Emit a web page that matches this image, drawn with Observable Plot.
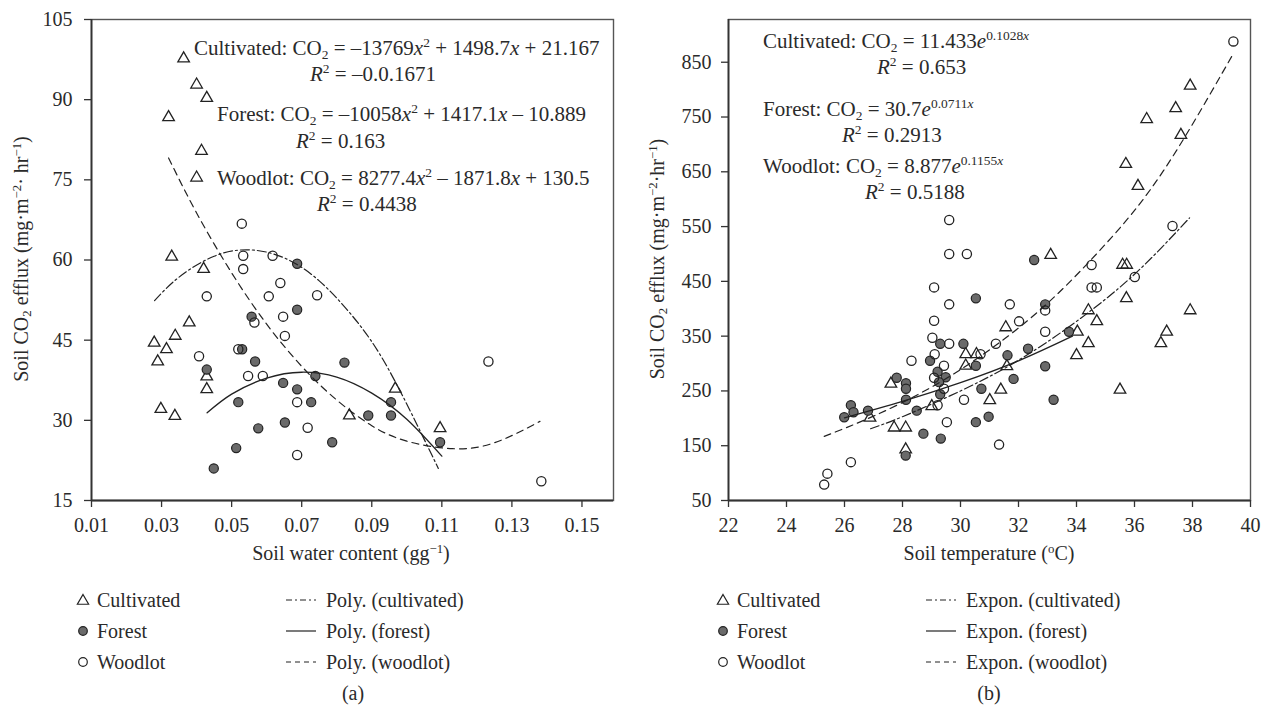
<!DOCTYPE html>
<html>
<head>
<meta charset="utf-8">
<script src="https://cdn.jsdelivr.net/npm/d3@7"></script>
<script src="https://cdn.jsdelivr.net/npm/@observablehq/plot@0.6"></script>
<style>
  html, body { margin: 0; padding: 0; background: #fff; }
  #wrap { position: relative; width: 1270px; height: 716px; background: #fff; overflow: hidden; font-family: "Liberation Serif", serif; }
  .panel { position: absolute; top: 0; }
  #overlay { position: absolute; left: 0; top: 0; pointer-events: none; }
</style>
</head>
<body>
<div id="wrap">
  <div class="panel" id="pa" style="left:0px"></div>
  <div class="panel" id="pb" style="left:635px"></div>
</div>
<script>
// ---------------- DATA ----------------
// Panel (a): soil water content (g/g) vs soil CO2 efflux
const waterCultivated = [
  [0.0363, 97.7], [0.040, 92.8], [0.0429, 90.3], [0.032, 86.7], [0.0414, 80.4], [0.040, 75.4],
  [0.0329, 60.6], [0.042, 58.3], [0.0379, 48.3], [0.0279, 44.5], [0.0339, 45.8], [0.0314, 43.3],
  [0.0289, 41.0], [0.0429, 38.2], [0.0429, 35.8], [0.0298, 32.1], [0.0338, 30.8], [0.0836, 30.9],
  [0.0967, 35.9], [0.1095, 28.5]
];
const waterForest = [
  [0.0687, 59.3], [0.0687, 50.7], [0.0557, 49.4], [0.053, 43.3], [0.0567, 41.0], [0.0429, 39.5],
  [0.0739, 38.3], [0.0647, 37.0], [0.0687, 35.8], [0.0519, 33.4], [0.0727, 33.4], [0.0652, 29.6],
  [0.0576, 28.5], [0.0513, 24.8], [0.0449, 21.0], [0.0822, 40.8], [0.0955, 33.4], [0.089, 30.9],
  [0.0955, 30.9], [0.0787, 25.9], [0.1095, 25.9]
];
const waterWoodlot = [
  [0.0529, 66.8], [0.0533, 60.8], [0.0533, 58.3], [0.0617, 60.8], [0.0429, 53.2], [0.0606, 53.2],
  [0.0639, 55.7], [0.0744, 53.4], [0.0647, 49.4], [0.0565, 48.3], [0.0652, 45.8], [0.0407, 42.0],
  [0.0519, 43.3], [0.0547, 38.3], [0.0589, 38.3], [0.0687, 33.4], [0.0717, 28.6], [0.0687, 23.5],
  [0.1233, 41.0], [0.1384, 18.6]
];
// trend lines of panel (a)
const waterTrendCultivated = [[0.028, 52.4], [0.035, 56.8], [0.045, 60.7], [0.055, 61.9], [0.065, 60.4], [0.075, 56.1], [0.085, 49.1], [0.095, 39.3], [0.109, 21.0]];
const waterTrendForest = [[0.043, 31.4], [0.05, 34.9], [0.06, 37.9], [0.07, 39.0], [0.08, 38.1], [0.09, 35.1], [0.10, 30.2], [0.11, 23.3]];
const waterTrendWoodlot = [[0.032, 79.1], [0.04, 68.8], [0.05, 57.6], [0.06, 48.0], [0.07, 40.1], [0.08, 33.8], [0.09, 29.0], [0.10, 26.1], [0.113, 24.7], [0.125, 25.8], [0.138, 29.8]];
const waterTicks = [0.01, 0.03, 0.05, 0.07, 0.09, 0.11, 0.13, 0.15];
const fluxTicksA = [15, 30, 45, 60, 75, 90, 105];

// Panel (b): soil temperature (°C) vs soil CO2 efflux
const tempCultivated = [
  [27.6, 263], [26.88, 201], [27.71, 183], [28.11, 183], [28.11, 143], [29.01, 222], [30.18, 317],
  [30.55, 317], [30.18, 296], [31.01, 233], [31.39, 252], [31.56, 366], [31.6, 295], [33.11, 498],
  [34.41, 397], [34.7, 377], [34.03, 358], [34.41, 337], [34.0, 315], [35.5, 252], [35.59, 480],
  [35.73, 480], [35.72, 419], [35.7, 664], [36.12, 624], [36.42, 746], [37.42, 766], [37.6, 717],
  [37.92, 807], [37.92, 397], [37.11, 358], [36.91, 337]
];
const tempForest = [
  [25.99, 202], [26.22, 224], [26.31, 211], [26.81, 214], [27.8, 274], [28.12, 264], [28.12, 254],
  [28.12, 234], [28.11, 132], [28.49, 214], [28.72, 172], [28.95, 305], [29.3, 336], [29.21, 285],
  [29.49, 275], [29.26, 266], [29.3, 244], [29.32, 163], [30.1, 336], [30.53, 296], [30.72, 254],
  [30.53, 193], [30.97, 203], [30.53, 419], [31.62, 315], [31.83, 272], [32.33, 327], [32.54, 489],
  [32.92, 408], [32.92, 295], [33.21, 234], [33.74, 358]
];
const tempWoodlot = [
  [25.3, 79], [25.41, 99], [26.22, 120], [28.31, 305], [29.03, 347], [29.09, 439], [29.09, 378],
  [29.11, 317], [29.09, 274], [29.21, 224], [29.43, 296], [29.43, 254], [29.53, 193], [29.61, 562],
  [29.61, 500], [29.61, 408], [29.61, 336], [30.22, 500], [30.69, 317], [30.12, 234], [31.22, 336],
  [31.33, 152], [31.7, 408], [32.02, 377], [32.92, 397], [32.92, 358], [34.52, 480], [34.52, 439],
  [34.7, 439], [36.01, 458], [37.31, 551], [39.41, 888]
];
const tempTrendCultivated = [[26.9, 181], [28, 203], [30, 250], [32, 306], [34, 377], [36, 463], [37.9, 566]];
const tempTrendForest = [[26, 201], [28, 231], [30, 265], [32, 305], [33.86, 350]];
const tempTrendWoodlot = [[25.3, 167], [27, 204], [29, 257], [31, 325], [33, 410], [35, 518], [37, 652], [39.4, 865]];
const tempTicks = [22, 24, 26, 28, 30, 32, 34, 36, 38, 40];
const fluxTicksB = [50, 150, 250, 350, 450, 550, 650, 750, 850];

// ---------------- STYLE ----------------
const INK = "#222";
const FOREST_FILL = "#6a6a6a";
const DASHDOT = "9,3,2,3";
const DASHED = "7,5";
const FONT = "Liberation Serif";

function panel(opts) {
  const {xDomain, yDomain, xTicks, yTicks, xFormat, cult, forest, wood, tCult, tForest, tWood, mLeft, mRight, yPad} = opts;
  return Plot.plot({
    width: 635, height: 545,
    marginLeft: mLeft, marginRight: mRight, marginTop: 19, marginBottom: 45,
    x: {domain: xDomain},
    y: {domain: yDomain},
    style: {fontFamily: FONT, fontSize: "20px", color: "#2a2a2a", background: "transparent"},
    marks: [
      Plot.frame({stroke: "#555", strokeWidth: 1.4}),
      Plot.axisX({ticks: xTicks, tickFormat: xFormat, tickSize: 7, tickPadding: 10, label: null, stroke: "#333", strokeWidth: 1.3}),
      Plot.axisY({ticks: yTicks, tickSize: 7, tickPadding: yPad, label: null, stroke: "#333", strokeWidth: 1.3}),
      Plot.ruleX([xDomain[0]], {stroke: "#333", strokeWidth: 1.8}),
      Plot.ruleY([yDomain[0]], {stroke: "#333", strokeWidth: 1.8}),
      Plot.dot(cult, {x: d => d[0], y: d => d[1], symbol: "triangle", r: 4.3, fill: "none", stroke: INK, strokeWidth: 1.3}),
      Plot.dot(forest, {x: d => d[0], y: d => d[1], r: 4.6, fill: FOREST_FILL, stroke: INK, strokeWidth: 1.2}),
      Plot.dot(wood, {x: d => d[0], y: d => d[1], r: 4.6, fill: "none", stroke: INK, strokeWidth: 1.3}),
      Plot.line(tCult, {x: d => d[0], y: d => d[1], curve: "natural", stroke: INK, strokeWidth: 1.2, strokeDasharray: DASHDOT}),
      Plot.line(tForest, {x: d => d[0], y: d => d[1], curve: "natural", stroke: INK, strokeWidth: 1.3}),
      Plot.line(tWood, {x: d => d[0], y: d => d[1], curve: "natural", stroke: INK, strokeWidth: 1.2, strokeDasharray: DASHED})
    ]
  });
}

document.getElementById("pa").append(panel({
  xDomain: [0.01, 0.159], yDomain: [15, 105], xTicks: waterTicks, yTicks: fluxTicksA,
  xFormat: d3.format(".2f"), cult: waterCultivated, forest: waterForest, wood: waterWoodlot,
  tCult: waterTrendCultivated, tForest: waterTrendForest, tWood: waterTrendWoodlot,
  mLeft: 91, mRight: 22, yPad: 12
}));
document.getElementById("pb").append(panel({
  xDomain: [22, 40], yDomain: [50, 928], xTicks: tempTicks, yTicks: fluxTicksB,
  xFormat: d3.format("d"), cult: tempCultivated, forest: tempForest, wood: tempWoodlot,
  tCult: tempTrendCultivated, tForest: tempTrendForest, tWood: tempTrendWoodlot,
  mLeft: 93, mRight: 20, yPad: 10
}));

// ---------------- TEXT OVERLAY ----------------
const svg = d3.select("#wrap").append("svg").attr("id", "overlay")
  .attr("width", 1270).attr("height", 716)
  .attr("font-family", FONT).attr("fill", "#2a2a2a");

// segments: string = normal, {t, it, pos:"sub"|"sup"}, {nl:[x, y]} = new line at absolute baseline
function rich(x, y, size, segs, anchor = "start", rotate = false) {
  const t = svg.append("text").attr("font-size", size).attr("text-anchor", anchor);
  if (rotate) t.attr("transform", `translate(${x},${y}) rotate(-90)`);
  else t.attr("x", x).attr("y", y);
  let shift = 0;
  let pendingNl = null;
  for (const s of segs) {
    if (s && s.nl) { pendingNl = s.nl; continue; }
    const seg = typeof s === "string" ? {t: s} : s;
    const want = seg.pos === "sub" ? 0.17 * size : seg.pos === "sup" ? -0.36 * size : 0;
    const ts = t.append("tspan").text(seg.t);
    if (pendingNl) {
      ts.attr("x", pendingNl[0]).attr("y", pendingNl[1] + want);
      pendingNl = null;
    } else if (want !== shift) {
      ts.attr("dy", want - shift);
    }
    shift = want;
    if (seg.pos) ts.attr("font-size", size * 0.64);
    if (seg.it) ts.attr("font-style", "italic");
  }
  return t;
}
const X = {t: "x", it: true};
const SQ = {t: "2", pos: "sup"};
const R2 = [{t: "R", it: true}, SQ];
const CO2 = ["CO", {t: "2", pos: "sub"}];
const EQ = 21;

// panel (a) equations (each block: equation line + R² line)
rich(194, 55, EQ, ["Cultivated: ", ...CO2, " = –13769", X, SQ, " + 1498.7", X, " + 21.167",
  {nl: [310, 81]}, ...R2, " = –0.0.1671"]);
rich(217, 121, EQ, ["Forest: ", ...CO2, " = –10058", X, SQ, " + 1417.1", X, " – 10.889",
  {nl: [296, 148]}, ...R2, " = 0.163"]);
rich(217, 185, EQ, ["Woodlot: ", ...CO2, " = 8277.4", X, SQ, " – 1871.8", X, " + 130.5",
  {nl: [317, 211]}, ...R2, " = 0.4438"]);

// panel (b) equations
const supX = {t: "x", it: true, pos: "sup"};
const E = {t: "e", it: true};
rich(763, 48, EQ, ["Cultivated: ", ...CO2, " = 11.433", E, {t: "0.1028", pos: "sup"}, supX,
  {nl: [877, 74]}, ...R2, " = 0.653"]);
rich(763, 116, EQ, ["Forest: ", ...CO2, " = 30.7", E, {t: "0.0711", pos: "sup"}, supX,
  {nl: [842, 142]}, ...R2, " = 0.2913"]);
rich(763, 173, EQ, ["Woodlot: ", ...CO2, " = 8.877", E, {t: "0.1155", pos: "sup"}, supX,
  {nl: [865, 199]}, ...R2, " = 0.5188"]);

// axis titles
const AX = 20;
rich(351, 560, AX, ["Soil water content (gg", {t: "−1", pos: "sup"}, ")"], "middle");
rich(989, 560, AX, ["Soil temperature (", {t: "o", pos: "sup"}, "C)"], "middle");
rich(28, 259, AX, ["Soil ", ...CO2, " efflux (mg·m", {t: "−2", pos: "sup"}, "· hr", {t: "−1", pos: "sup"}, ")"], "middle", true);
rich(664, 259, AX, ["Soil ", ...CO2, " efflux (mg·m", {t: "−2", pos: "sup"}, "·hr", {t: "−1", pos: "sup"}, ")"], "middle", true);

// legends
const legendNames = ["Cultivated", "Forest", "Woodlot"];
const legendA = ["Poly. (cultivated)", "Poly. (forest)", "Poly. (woodlot)"];
const legendB = ["Expon. (cultivated)", "Expon. (forest)", "Expon. (woodlot)"];
const rowsY = [600, 631, 662];
const LG = 20;
function legend(x0, lx0, labels) {
  rowsY.forEach((cy, i) => {
    const g = svg.append("g");
    if (i === 0) {
      g.append("path").attr("d", d3.symbol(d3.symbolTriangle, 55)())
        .attr("transform", `translate(${x0},${cy + 1})`).attr("fill", "none").attr("stroke", INK).attr("stroke-width", 1.2);
    } else {
      g.append("circle").attr("cx", x0).attr("cy", cy).attr("r", 4.3)
        .attr("fill", i === 1 ? FOREST_FILL : "none").attr("stroke", INK).attr("stroke-width", 1.2);
    }
    svg.append("text").attr("x", x0 + 14).attr("y", cy + 7).attr("font-size", LG).text(legendNames[i]);
    svg.append("line").attr("x1", lx0).attr("x2", lx0 + 30).attr("y1", cy).attr("y2", cy)
      .attr("stroke", INK).attr("stroke-width", 1.2)
      .attr("stroke-dasharray", i === 0 ? "6,3,2,3" : i === 2 ? "5,4" : null);
    svg.append("text").attr("x", lx0 + 40).attr("y", cy + 7).attr("font-size", LG).text(labels[i]);
  });
}
legend(83, 286, legendA);
legend(723, 926, legendB);

svg.append("text").attr("x", 353).attr("y", 700).attr("font-size", LG).attr("text-anchor", "middle").text("(a)");
svg.append("text").attr("x", 989).attr("y", 700).attr("font-size", LG).attr("text-anchor", "middle").text("(b)");
</script>
</body>
</html>
